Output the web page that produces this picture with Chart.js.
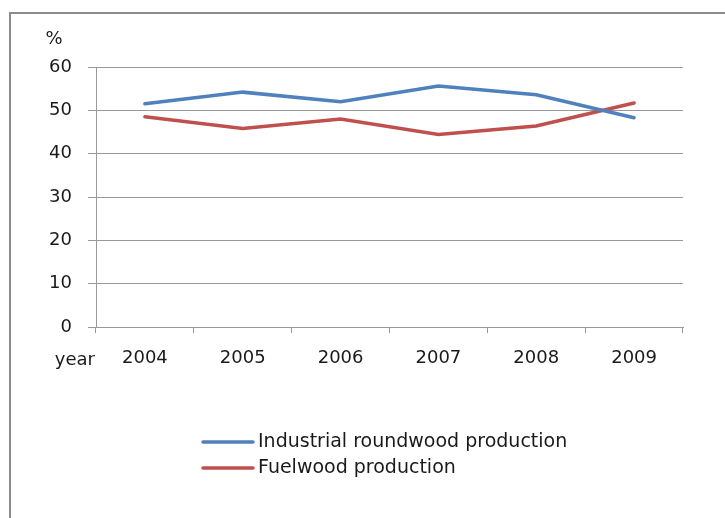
<!DOCTYPE html>
<html>
<head>
<meta charset="utf-8">
<script src="https://cdn.jsdelivr.net/npm/chart.js@4/dist/chart.umd.min.js"></script>
<style>
    body { margin: 0; background: #fff; }
    #wrap { width: 725px; height: 518px; }
</style>
</head>
<body>
<div id="wrap"><canvas id="wood-chart" width="725" height="518"></canvas></div>
<script>
const years = ["2004", "2005", "2006", "2007", "2008", "2009"];
const industrial = [51.5, 54.2, 52.0, 55.6, 53.6, 48.3];
const fuelwood = [48.5, 45.8, 48.0, 44.4, 46.4, 51.7];
const seriesNames = ["Industrial roundwood production", "Fuelwood production"];
const seriesColors = ["#4f81bd", "#c0504d"];
const yTicks = [0, 10, 20, 30, 40, 50, 60];

const FONT = "'DejaVu Sans', Verdana, sans-serif";
const TEXT = "#1a1a1a";
const GRID = "#999999";

// outer frame, axis captions and the stacked legend
const extras = {
    id: "extras",
    beforeDraw(chart) {
        const ctx = chart.ctx;
        ctx.save();
        ctx.fillStyle = "#fff";
        ctx.fillRect(0, 0, chart.width, chart.height);
        ctx.strokeStyle = "#8c8c8c";
        ctx.lineWidth = 2;
        ctx.strokeRect(10, 13, chart.width + 50, chart.height + 50);
        ctx.restore();
    },
    afterDraw(chart) {
        const ctx = chart.ctx;
        const area = chart.chartArea;
        ctx.save();
        ctx.fillStyle = TEXT;
        ctx.font = "18px " + FONT;
        ctx.textBaseline = "middle";
        ctx.textAlign = "center";
        ctx.fillText("%", area.left - 42, area.top - 28);
        ctx.textAlign = "right";
        ctx.fillText("year", area.left - 1, area.bottom + 33);

        ctx.font = "19px " + FONT;
        ctx.textAlign = "left";
        chart.data.datasets.forEach((ds, i) => {
            const y = 442 + i * 26;
            ctx.strokeStyle = ds.borderColor;
            ctx.lineWidth = 3.5;
            ctx.lineCap = "round";
            ctx.beginPath();
            ctx.moveTo(203, y);
            ctx.lineTo(253, y);
            ctx.stroke();
            ctx.fillText(ds.label, 258, y);
        });
        ctx.restore();
    }
};

new Chart(document.getElementById("wood-chart"), {
    type: "line",
    data: {
        labels: years,
        datasets: [
            { label: seriesNames[0], data: industrial, borderColor: seriesColors[0] },
            { label: seriesNames[1], data: fuelwood, borderColor: seriesColors[1] }
        ]
    },
    options: {
        responsive: false,
        animation: false,
        layout: { padding: { top: 67, right: 42, left: 0, bottom: 0 } },
        elements: {
            point: { radius: 0 },
            line: { borderWidth: 3.5, tension: 0, borderCapStyle: "round" }
        },
        plugins: {
            legend: { display: false },
            tooltip: { enabled: false }
        },
        scales: {
            x: {
                offset: true,
                grid: { offset: true, drawOnChartArea: false, color: GRID, tickLength: 6 },
                border: { color: GRID },
                ticks: { color: TEXT, font: { family: FONT, size: 18 }, padding: 15, maxRotation: 0 },
                afterFit(scale) { scale.height = 191; }
            },
            y: {
                min: 0,
                max: 60,
                afterBuildTicks(scale) { scale.ticks = yTicks.map(v => ({ value: v })); },
                grid: { color: GRID, tickLength: 8 },
                border: { color: GRID },
                ticks: { color: TEXT, font: { family: FONT, size: 18 }, padding: 16 },
                afterFit(scale) { scale.width = 96; }
            }
        }
    },
    plugins: [extras]
});
</script>
</body>
</html>
